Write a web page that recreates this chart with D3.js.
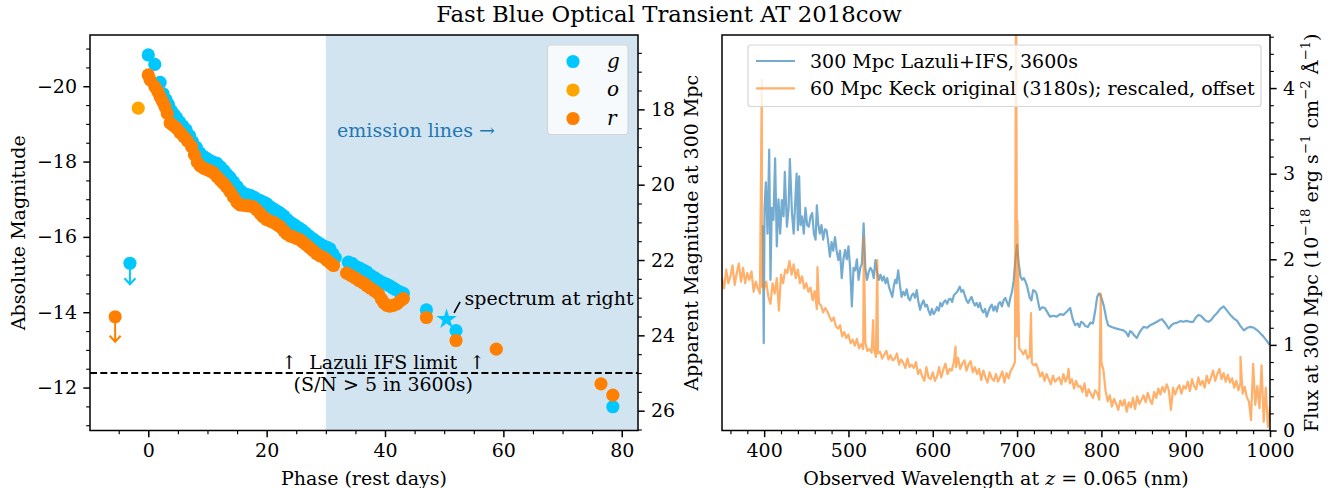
<!DOCTYPE html>
<html><head><meta charset="utf-8">
<script src="https://cdn.jsdelivr.net/npm/d3@7"></script>
<style>
body{margin:0;background:#fff}
svg{display:block}
text{font-family:'DejaVu Serif',serif;fill:#000}
</style>
</head><body><svg id="c" width="1338" height="488"></svg>
<script>
// ---------------- DATA ----------------
const chartTitle = "Fast Blue Optical Transient AT 2018cow";
const bandNames = ["g", "o", "r"];
const bandColors = ["#00c8ff", "#ffa500", "#ff7f00"];

// [phase (rest days), absolute magnitude]
const gBand = [
 [0.0,-20.83],[1.1,-20.58],[2.0,-20.10],[2.5,-19.80],[3.0,-19.64],[3.4,-19.52],[3.9,-19.35],[4.4,-19.24],
 [4.8,-19.16],[5.3,-19.05],[5.8,-18.95],[6.4,-18.84],[7.0,-18.68],[7.5,-18.52],[8.1,-18.38],[8.7,-18.23],
 [9.3,-18.14],[9.9,-18.08],[10.5,-18.02],[11.0,-17.98],[11.6,-17.95],[12.2,-17.86],[12.8,-17.76],[13.3,-17.66],
 [13.8,-17.58],[14.4,-17.46],[15.0,-17.34],[15.6,-17.22],[16.2,-17.15],[16.7,-17.12],[17.2,-17.10],[17.8,-17.06],
 [18.4,-17.00],[19.0,-16.96],[19.5,-16.92],[20.0,-16.88],[20.6,-16.80],[21.2,-16.74],[21.8,-16.68],[22.3,-16.63],
 [22.9,-16.56],[23.5,-16.46],[24.1,-16.38],[24.7,-16.32],[25.2,-16.26],[25.6,-16.22],[26.0,-16.18],[26.6,-16.10],
 [27.2,-16.02],[27.8,-15.95],[28.4,-15.88],[29.0,-15.82],[29.6,-15.76],[30.2,-15.72],[30.7,-15.68],[31.2,-15.55],
 [31.6,-15.45],[33.8,-15.33],[34.4,-15.30],[35.0,-15.22],[35.7,-15.17],[36.3,-15.12],[36.9,-15.07],[37.6,-14.98],
 [38.3,-14.91],[39.0,-14.84],[39.7,-14.78],[40.3,-14.74],[40.8,-14.70],[41.3,-14.65],[41.7,-14.61],[42.4,-14.55],
 [43.1,-14.50],[47.0,-14.06],[52.0,-13.51],[78.5,-11.49]
];
const oBand = [[-1.7,-19.42]];
const rBand = [
 [0.0,-20.30],[0.3,-20.17],[1.1,-19.99],[1.6,-19.86],[2.0,-19.72],[2.4,-19.60],[2.8,-19.46],[3.2,-19.28],
 [3.7,-19.02],[4.2,-18.96],[4.8,-18.88],[5.4,-18.76],[6.0,-18.66],[6.6,-18.55],[7.3,-18.40],[7.8,-18.18],
 [8.3,-17.98],[8.8,-17.88],[9.4,-17.82],[10.0,-17.78],[10.5,-17.75],[11.0,-17.70],[11.6,-17.60],[12.2,-17.50],
 [12.7,-17.42],[13.2,-17.33],[13.8,-17.20],[14.4,-17.06],[15.0,-16.92],[15.5,-16.85],[16.1,-16.84],[16.7,-16.83],
 [17.2,-16.82],[17.7,-16.80],[18.3,-16.72],[18.9,-16.62],[19.4,-16.53],[20.0,-16.46],[20.6,-16.42],[21.2,-16.38],
 [21.8,-16.32],[22.3,-16.27],[22.9,-16.16],[23.4,-16.08],[24.0,-16.02],[24.5,-16.00],[25.0,-15.96],[25.6,-15.93],
 [26.1,-15.86],[26.6,-15.80],[27.2,-15.72],[27.8,-15.64],[28.4,-15.56],[29.0,-15.50],[29.6,-15.46],[30.2,-15.38],
 [30.8,-15.30],[31.3,-15.24],[33.5,-15.04],[34.2,-14.98],[34.9,-14.91],[35.6,-14.84],[36.3,-14.78],[36.9,-14.71],
 [37.5,-14.64],[38.2,-14.57],[38.9,-14.48],[39.4,-14.35],[39.8,-14.25],[40.3,-14.18],[40.8,-14.16],[41.4,-14.18],
 [42.0,-14.22],[42.6,-14.30],[43.1,-14.36],[47.0,-13.86],[52.0,-13.25],[58.8,-13.02],[76.5,-12.10],[78.5,-11.80]
];
// upper limits: [phase, mag, band index]
const upperLimits = [[-3.1,-15.30,0],[-5.6,-13.88,2]];
// epoch of the spectrum shown at right
const spectrumEpoch = [50.4,-13.81];
const distanceModulus300Mpc = 37.386;
const ifsLimitAppMag = 25;
const emissionStart = 30;

const lcXTicks = [0,20,40,60,80];
const lcXMinor = [-5,5,10,15,25,30,35,45,50,55,65,70,75];
const lcYTicks = [-20,-18,-16,-14,-12];
const lcYMinor = [-21,-20.5,-19.5,-19,-18.5,-17.5,-17,-16.5,-15.5,-15,-14.5,-13.5,-13,-12.5,-11.5,-11];
const appTicks = [18,20,22,24,26];
const appMinor = [16.5,17,17.5,18.5,19,19.5,20.5,21,21.5,22.5,23,23.5,24.5,25,25.5,26.5];

// Lazuli+IFS 300 Mpc spectrum: [wavelength nm, flux]
const lazuliSpec = [
 [398.5,2.40],[399.5,1.02],[400.5,2.60],[402,2.90],[404,2.30],[406,3.28],[407.5,1.76],[409,2.60],[411,2.46],
 [413,3.18],[415,2.15],[417,2.70],[419,2.30],[421,2.69],[423,2.50],[424.5,3.02],[427,2.38],[429,2.60],
 [430.5,3.17],[433,2.54],[435,2.30],[437,2.70],[438.5,3.00],[440,2.34],[441.5,2.97],[443,2.40],[445,2.50],
 [447,2.30],[449,2.60],[451,2.40],[453,2.38],[455,2.50],[457,2.54],[459,2.30],[461,2.23],[462.5,2.63],
 [464,2.42],[466,2.30],[468,2.40],[470,2.23],[472,2.35],[474,2.34],[476,2.20],[478,2.03],[480,2.20],
 [482,2.10],[484,2.26],[486,2.10],[488,1.99],[490,2.10],[492,1.78],[494,2.00],[496,2.11],[498,2.00],
 [500,2.15],[502,1.90],[504,1.45],[506,1.90],[508,1.87],[510,2.00],[512,1.76],[514,1.90],[516,1.95],
 [518,2.42],[520,1.90],[522,1.76],[524,1.85],[526,1.90],[528,1.87],[530,1.78],[532,1.99],[534,1.85],
 [536,1.76],[538,1.82],[540,1.75],[542,1.80],[544,1.72],[546,1.78],[548,1.68],[550,1.62],[552,1.56],
 [554,1.70],[555.5,1.76],[557,1.72],[559,1.87],[561,1.70],[563,1.56],[565,1.62],[567,1.58],[569,1.65],
 [571,1.55],[573,1.52],[575,1.58],[577,1.60],[579,1.55],[581,1.64],[583,1.50],[585,1.41],[587,1.48],
 [589,1.52],[591,1.45],[593,1.47],[595,1.40],[597,1.35],[599,1.42],[601,1.36],[603,1.39],[605,1.44],
 [607,1.40],[609,1.49],[611,1.45],[613,1.50],[615,1.52],[617,1.48],[619,1.53],[621,1.54],[623,1.50],
 [625,1.58],[627,1.60],[629,1.62],[632,1.68],[634,1.62],[636,1.64],[638,1.58],[640,1.52],[642,1.49],
 [644,1.53],[646,1.56],[648,1.50],[650,1.46],[652,1.49],[654,1.44],[656,1.49],[658,1.41],[660,1.38],
 [662,1.42],[664,1.33],[666,1.39],[668,1.44],[670,1.47],[672,1.40],[674,1.45],[676,1.39],[678,1.48],
 [680,1.50],[682,1.45],[684,1.52],[686,1.55],[688,1.50],[690,1.45],[692,1.55],[694,1.62],[696,1.75],
 [698,2.00],[700,2.17],[702,1.95],[704,1.80],[706,1.76],[708,1.78],[710,1.74],[712,1.68],[715,1.55],
 [717,1.52],[719,1.64],[721,1.63],[723,1.60],[725,1.50],[727,1.41],[730,1.44],[733,1.43],[736,1.38],
 [739,1.33],[743,1.34],[747,1.33],[751,1.36],[755,1.35],[757,1.37],[760,1.40],[763,1.43],[766,1.30],
 [769,1.23],[772,1.25],[774,1.21],[776,1.27],[778,1.26],[781,1.22],[784,1.21],[787,1.26],[790,1.25],
 [793,1.42],[795,1.56],[797,1.60],[799,1.58],[801,1.52],[803,1.45],[806,1.30],[808,1.23],[812,1.21],
 [818,1.19],[822,1.18],[826,1.17],[829,1.15],[832,1.10],[834,1.16],[836,1.15],[839,1.11],[842,1.08],
 [846,1.16],[850,1.21],[854,1.20],[858,1.23],[862,1.25],[866,1.27],[869,1.29],[872,1.30],[876,1.25],
 [880,1.19],[883,1.23],[886,1.25],[890,1.26],[894,1.28],[897,1.27],[901,1.28],[905,1.27],[909,1.27],
 [912,1.32],[915,1.35],[918,1.34],[921,1.31],[924,1.28],[927,1.27],[930,1.29],[934,1.34],[937,1.37],
 [941,1.42],[945,1.45],[949,1.40],[953,1.35],[957,1.31],[961,1.28],[965,1.22],[969,1.17],[973,1.20],
 [977,1.21],[981,1.20],[985,1.17],[989,1.13],[992,1.10],[996,1.05],[999.5,1.00]
];
// Keck spectrum, sampled every 2.5 nm from 350 nm
const keckStart = 350, keckStep = 2.5;
const keckFlux = [
 1.78,1.66,1.88,1.72,1.80,1.93,1.70,1.84,1.95,1.74,
 1.90,1.72,1.84,1.76,1.86,1.62,1.74,1.66,1.60,1.68,
 1.66,1.74,1.56,1.48,1.72,1.60,1.78,1.40,1.82,1.72,
 1.88,1.84,1.98,1.82,1.94,1.78,1.88,1.72,1.80,1.66,
 1.72,1.62,1.67,1.52,1.63,1.42,1.49,1.46,1.38,1.43,
 1.39,1.33,1.28,1.32,1.22,1.19,1.23,1.10,1.15,1.08,
 1.12,1.02,1.06,0.99,1.07,0.96,1.01,0.95,1.03,0.93,
 0.95,0.91,0.97,0.86,0.90,0.92,0.84,0.89,0.93,0.83,
 0.88,0.82,0.84,0.90,0.77,0.83,0.79,0.73,0.84,0.74,
 0.77,0.73,0.80,0.66,0.71,0.63,0.58,0.74,0.62,0.60,
 0.68,0.58,0.63,0.74,0.62,0.71,0.78,0.66,0.72,0.70,
 0.80,0.74,0.85,0.72,0.78,0.82,0.70,0.77,0.81,0.68,
 0.74,0.66,0.72,0.59,0.70,0.62,0.56,0.68,0.61,0.58,
 0.66,0.57,0.63,0.69,0.56,0.67,0.61,0.70,0.74,0.80,
 1.10,0.96,0.93,0.89,0.94,0.84,0.87,0.79,0.76,0.78,
 0.71,0.63,0.68,0.58,0.66,0.60,0.54,0.64,0.57,0.60,
 0.62,0.54,0.66,0.57,0.64,0.55,0.60,0.49,0.58,0.51,
 0.52,0.45,0.55,0.40,0.48,0.43,0.38,0.47,0.44,0.36,
 0.80,0.70,0.46,0.34,0.41,0.28,0.37,0.31,0.24,0.35,
 0.29,0.36,0.22,0.33,0.27,0.38,0.25,0.40,0.31,0.36,
 0.41,0.33,0.44,0.36,0.31,0.45,0.38,0.49,0.42,0.51,
 0.45,0.54,0.47,0.24,0.50,0.42,0.49,0.53,0.43,0.52,
 0.49,0.57,0.46,0.60,0.52,0.48,0.62,0.53,0.58,0.50,
 0.64,0.55,0.62,0.70,0.58,0.66,0.72,0.60,0.67,0.57,
 0.65,0.56,0.61,0.50,0.58,0.47,0.55,0.43,0.51,0.39,
 0.34,0.12,0.78,0.30,0.52,0.26,0.76,0.10,0.50,0.04,
 0.28
];
// narrow emission spikes in the Keck spectrum: [wavelength nm, flux]
const keckLines = [[397.2,4.10],[463.2,1.91],[518.2,2.25],[529.3,1.29],[534.2,1.99],[627.0,0.98],
 [698.8,5.50],[700.3,2.45],[716.5,1.37],[761.0,0.72],[799.2,1.60],[965.0,0.86]];

const specXTicks = [400,500,600,700,800,900,1000];
const specXMinor = [360,380,420,440,460,480,520,540,560,580,620,640,660,680,720,740,760,780,820,840,860,880,920,940,960,980];
const specYTicks = [0,1,2,3,4];
const specYMinor = [0.2,0.4,0.6,0.8,1.2,1.4,1.6,1.8,2.2,2.4,2.6,2.8,3.2,3.4,3.6,3.8,4.2,4.4,4.6];
const specLegend = ["300 Mpc Lazuli+IFS, 3600s", "60 Mpc Keck original (3180s); rescaled, offset"];
const specColors = ["#1f77b4", "#ff7f0e"];

// ---------------- DRAW ----------------
const FS = 19;
const TICK = 6.65, TICKM = 3.8, PAD = 6.3;
const svg = d3.select("#c");
const fmt = d => (d < 0 ? "\u2212" : "") + Math.abs(d);

const L = {x0:90, x1:638, y0:35, y1:430.5};
const R = {x0:722, x1:1270, y0:35, y1:430.5};

const xL = d3.scaleLinear().domain([-9.85, 82.75]).range([L.x0, L.x1]);
const yL = d3.scaleLinear().domain([-10.86, -21.36]).range([L.y1, L.y0]);
const yApp = d3.scaleLinear().domain([-10.86 + distanceModulus300Mpc, -21.36 + distanceModulus300Mpc]).range([L.y1, L.y0]);
const xR = d3.scaleLinear().domain([350, 1000]).range([R.x0, R.x1]);
const yR = d3.scaleLinear().domain([0, 4.62]).range([R.y1, R.y0]);

const defs = svg.append("defs");
defs.append("clipPath").attr("id","clipL").append("rect").attr("x",L.x0).attr("y",L.y0).attr("width",L.x1-L.x0).attr("height",L.y1-L.y0);
defs.append("clipPath").attr("id","clipR").append("rect").attr("x",R.x0).attr("y",R.y0).attr("width",R.x1-R.x0).attr("height",R.y1-R.y0);

function styleAxis(g, minor){
  g.select(".domain").remove();
  g.selectAll(".tick line").attr("stroke","#000").attr("stroke-width", minor ? 1.15 : 1.5);
  g.selectAll(".tick text").attr("font-size", FS).attr("font-family","'DejaVu Serif',serif").attr("fill","#000");
}
function drawAxis(axisFn, scale, major, minor, transform){
  const gM = svg.append("g").attr("transform", transform)
    .call(axisFn(scale).tickValues(major).tickSize(TICK).tickPadding(PAD).tickFormat(fmt));
  styleAxis(gM, false);
  const gm = svg.append("g").attr("transform", transform)
    .call(axisFn(scale).tickValues(minor).tickSize(TICKM).tickFormat(""));
  styleAxis(gm, true);
}

// ---- Left panel ----
const pL = svg.append("g").attr("clip-path","url(#clipL)");
pL.append("rect").attr("x", xL(emissionStart)).attr("y", L.y0)
  .attr("width", xL.range()[1] - xL(emissionStart) + 5).attr("height", L.y1 - L.y0)
  .attr("fill","#1f77b4").attr("fill-opacity",0.2);

pL.append("text").attr("x", xL(31.9)).attr("y", yL(-18.84)).attr("dy","0.35em")
  .attr("font-size", FS).style("fill","#1f77b4").text("emission lines \u2192");

// IFS limit line
pL.append("line").attr("x1",L.x0).attr("x2",L.x1)
  .attr("y1", yApp(ifsLimitAppMag)).attr("y2", yApp(ifsLimitAppMag))
  .attr("stroke","#000").attr("stroke-width",1.9).attr("stroke-dasharray","7,3.3");
const limT = pL.append("text").attr("x", xL(39.7)).attr("text-anchor","middle").attr("font-size",FS).style("white-space","pre");
limT.append("tspan").attr("x", xL(39.7)).attr("y", yApp(ifsLimitAppMag) - 4).text("\u2191  Lazuli IFS limit  \u2191");
limT.append("tspan").attr("x", xL(39.7)).attr("y", yApp(ifsLimitAppMag) + 17.5).text("(S/N > 5 in 3600s)");

// upper limits
const R_PT = 6.6;
upperLimits.forEach(([p, m, b]) => {
  const cx = xL(p), cy = yL(m), c = bandColors[b];
  const tip = cy + (b === 0 ? 21 : 25);
  pL.append("line").attr("x1",cx).attr("x2",cx).attr("y1",cy).attr("y2",tip).attr("stroke",c).attr("stroke-width",2);
  pL.append("path").attr("d", `M${cx-5.5},${tip-6}L${cx},${tip}L${cx+5.5},${tip-6}`)
    .attr("fill","none").attr("stroke",c).attr("stroke-width",2);
  pL.append("circle").attr("cx",cx).attr("cy",cy).attr("r",R_PT).attr("fill",c);
});

[gBand, oBand, rBand].forEach((arr, i) => {
  pL.append("g").selectAll("circle").data(arr).join("circle")
    .attr("cx", d => xL(d[0])).attr("cy", d => yL(d[1])).attr("r", R_PT).attr("fill", bandColors[i]);
});

// spectrum epoch star + annotation
pL.append("path").attr("d", d3.symbol(d3.symbolStar, 130)())
  .attr("transform", `translate(${xL(spectrumEpoch[0])},${yL(spectrumEpoch[1])})`).attr("fill", bandColors[0]);
pL.append("line").attr("x1", xL(spectrumEpoch[0]) + 7.5).attr("y1", yL(spectrumEpoch[1]) - 6.5)
  .attr("x2", xL(spectrumEpoch[0]) + 13.5).attr("y2", yL(spectrumEpoch[1]) - 17.5)
  .attr("stroke","#000").attr("stroke-width",1.6);
pL.append("text").attr("x", xL(spectrumEpoch[0]) + 18).attr("y", yL(spectrumEpoch[1]) - 14)
  .attr("font-size",FS).text("spectrum at right");

// legend (left)
const lg = svg.append("g");
lg.append("rect").attr("x",547.5).attr("y",45).attr("width",80.5).attr("height",89.5).attr("rx",3)
  .attr("fill","#fff").attr("fill-opacity",0.8).attr("stroke","#d6d6d6").attr("stroke-width",1.2);
bandNames.forEach((n, i) => {
  const yy = 61.5 + i * 28.5;
  lg.append("circle").attr("cx",573).attr("cy",yy).attr("r",R_PT).attr("fill",bandColors[i]);
  lg.append("text").attr("x",607).attr("y",yy).attr("dy","0.30em").attr("font-size",FS+1)
    .attr("font-style","italic").text(n);
});

// spines left
svg.append("rect").attr("x",L.x0).attr("y",L.y0).attr("width",L.x1-L.x0).attr("height",L.y1-L.y0)
  .attr("fill","none").attr("stroke","#000").attr("stroke-width",1.5);

drawAxis(d3.axisBottom, xL, lcXTicks, lcXMinor, `translate(0,${L.y1})`);
drawAxis(d3.axisLeft, yL, lcYTicks, lcYMinor, `translate(${L.x0},0)`);
drawAxis(d3.axisRight, yApp, appTicks, appMinor, `translate(${L.x1},0)`);

svg.append("text").attr("x",(L.x0+L.x1)/2).attr("y",478).attr("dy","0.35em").attr("text-anchor","middle")
  .attr("font-size",FS).text("Phase (rest days)");
svg.append("text").attr("transform",`translate(18,${(L.y0+L.y1)/2}) rotate(-90)`).attr("dy","0.35em")
  .attr("text-anchor","middle").attr("font-size",FS).text("Absolute Magnitude");
svg.append("text").attr("transform",`translate(691,${(L.y0+L.y1)/2}) rotate(-90)`).attr("dy","0.35em")
  .attr("text-anchor","middle").attr("font-size",FS).text("Apparent Magnitude at 300 Mpc");

// ---- Right panel ----
const pR = svg.append("g").attr("clip-path","url(#clipR)");
const line = d3.line().x(d => xR(d[0])).y(d => yR(d[1]));
const keckSpec = keckFlux.map((f, i) => [keckStart + i * keckStep, f]).concat(keckLines).sort((a, b) => a[0] - b[0]);

pR.append("path").datum(lazuliSpec).attr("d", line).attr("fill","none")
  .attr("stroke", specColors[0]).attr("stroke-opacity",0.62).attr("stroke-width",2.2).attr("stroke-linejoin","round");
pR.append("path").datum(keckSpec).attr("d", line).attr("fill","none")
  .attr("stroke", specColors[1]).attr("stroke-opacity",0.62).attr("stroke-width",2.2).attr("stroke-linejoin","round");

// legend (right)
const lr = svg.append("g");
lr.append("rect").attr("x",748).attr("y",45).attr("width",513).attr("height",61.5).attr("rx",3)
  .attr("fill","#fff").attr("fill-opacity",0.8).attr("stroke","#d6d6d6").attr("stroke-width",1.2);
specLegend.forEach((t, i) => {
  const yy = 61 + i * 27.3;
  lr.append("line").attr("x1",756).attr("x2",795).attr("y1",yy).attr("y2",yy)
    .attr("stroke",specColors[i]).attr("stroke-opacity",0.62).attr("stroke-width",2.2);
  lr.append("text").attr("x",810).attr("y",yy).attr("dy","0.35em").attr("font-size",FS).text(t);
});

svg.append("rect").attr("x",R.x0).attr("y",R.y0).attr("width",R.x1-R.x0).attr("height",R.y1-R.y0)
  .attr("fill","none").attr("stroke","#000").attr("stroke-width",1.5);
drawAxis(d3.axisBottom, xR, specXTicks, specXMinor, `translate(0,${R.y1})`);
drawAxis(d3.axisRight, yR, specYTicks, specYMinor, `translate(${R.x1},0)`);

const xl = svg.append("text").attr("x",(R.x0+R.x1)/2).attr("y",478).attr("dy","0.35em").attr("text-anchor","middle")
  .attr("font-size",FS).style("white-space","pre");
xl.append("tspan").text("Observed Wavelength at ");
xl.append("tspan").attr("font-style","italic").text("z");
xl.append("tspan").text(" = 0.065 (nm)");

const yl = svg.append("text").attr("transform",`translate(1318,${(R.y0+R.y1)/2}) rotate(-90)`).attr("dy","0.35em")
  .attr("text-anchor","middle").attr("font-size",FS);
const supParts = [["Flux at 300 Mpc (10",false],["\u221218",true],[" erg s",false],["\u22121",true],[" cm",false],["\u22122",true],[" \u00c5",false],["\u22121",true],[")",false]];
let up = false;
supParts.forEach(([t, s]) => {
  const ts = yl.append("tspan").text(t).style("white-space","pre");
  if (s) { ts.attr("font-size", 13.3).attr("dy", up ? 0 : -8); up = true; }
  else { ts.attr("dy", up ? 8 : 0); up = false; }
});

// title
svg.append("text").attr("x",669).attr("y",14).attr("dy","0.35em").attr("text-anchor","middle")
  .attr("font-size",22.8).text(chartTitle);
</script></body></html>
